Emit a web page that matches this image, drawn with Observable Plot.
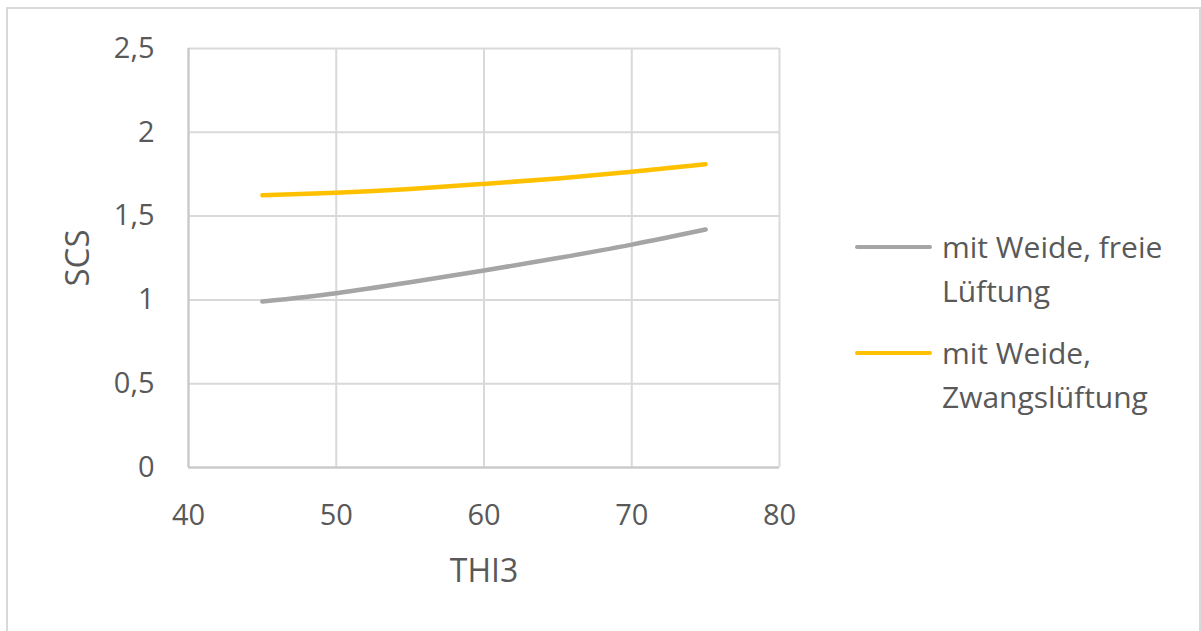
<!DOCTYPE html>
<html>
<head>
<meta charset="utf-8">
<script src="https://cdn.jsdelivr.net/npm/d3@7"></script>
<script src="https://cdn.jsdelivr.net/npm/@observablehq/plot@0.6"></script>
<style>
  html, body { margin: 0; padding: 0; background: #fff; }
  #wrap { position: relative; width: 1201px; height: 631px; font-family: "Open Sans", sans-serif; color: #595959; }
  #frame { position: absolute; left: 6px; top: 7px; width: 1195px; height: 630px; border: 2px solid #d9d9d9; box-sizing: border-box; }
  #legend { position: absolute; left: 855px; top: 225px; font-size: 30px; line-height: 44px; }
  .item { display: flex; align-items: flex-start; margin-bottom: 18px; }
  .swatch { width: 77px; height: 4px; border-radius: 2px; margin-top: 20px; margin-right: 10px; flex: none; }
  svg { position: absolute; left: 0; top: 0; }
</style>
</head>
<body>
<div id="wrap"><div id="frame"></div><div id="legend"></div></div>
<script>
const thi = [45, 50, 55, 60, 65, 70, 75];
const freieLueftung = [0.99, 1.04, 1.105, 1.175, 1.25, 1.33, 1.42];
const zwangsLueftung = [1.625, 1.64, 1.662, 1.692, 1.725, 1.765, 1.81];
const seriesNames = ["mit Weide, freie Lüftung", "mit Weide, Zwangslüftung"];
const seriesLegend = [["mit Weide, freie", "Lüftung"], ["mit Weide,", "Zwangslüftung"]];
const seriesColors = ["#a5a5a5", "#ffc000"];
const xTicks = [40, 50, 60, 70, 80];
const yTicks = [0, 0.5, 1, 1.5, 2, 2.5];

const rows = [];
thi.forEach((x, i) => {
  rows.push({x, y: freieLueftung[i], s: seriesNames[0]});
  rows.push({x, y: zwangsLueftung[i], s: seriesNames[1]});
});

const fmt = d => String(d).replace(".", ",");

const chart = Plot.plot({
  width: 1201,
  height: 631,
  marginLeft: 188,
  marginRight: 422,
  marginTop: 48,
  marginBottom: 164,
  style: { fontFamily: "Open Sans, sans-serif", fontSize: "29px", color: "#595959", background: "transparent" },
  x: { domain: [40, 80] },
  y: { domain: [0, 2.5] },
  color: { domain: seriesNames, range: seriesColors },
  marks: [
    Plot.gridX(xTicks, { stroke: "#d9d9d9", strokeOpacity: 1, strokeWidth: 2 }),
    Plot.gridY(yTicks, { stroke: "#d9d9d9", strokeOpacity: 1, strokeWidth: 2 }),
    Plot.ruleY([0], { stroke: "#c8c8c8", strokeWidth: 2 }),
    Plot.ruleX([40], { stroke: "#c8c8c8", strokeWidth: 2 }),
    Plot.axisX(xTicks, { tickSize: 0, tickPadding: 37, fill: "#595959", label: null, fontSize: 29 }),
    Plot.axisY(yTicks, { tickSize: 0, tickPadding: 34, fill: "#595959", tickFormat: fmt, label: null, fontSize: 29 }),
    Plot.text(["THI3"], { frameAnchor: "bottom", dy: 114, fill: "#595959", fontSize: 32, textAnchor: "middle" }),
    Plot.text(["SCS"], { frameAnchor: "left", dx: -110, rotate: -90, fill: "#595959", fontSize: 33, textAnchor: "middle" }),
    Plot.line(rows, { x: "x", y: "y", z: "s", stroke: "s", strokeWidth: 4.5, curve: "natural", strokeLinecap: "round" })
  ]
});
document.getElementById("wrap").appendChild(chart);

const legend = document.getElementById("legend");
seriesLegend.forEach((lines, i) => {
  const item = document.createElement("div");
  item.className = "item";
  const sw = document.createElement("div");
  sw.className = "swatch";
  sw.style.background = seriesColors[i];
  const txt = document.createElement("div");
  txt.innerHTML = lines.join("<br>");
  item.appendChild(sw);
  item.appendChild(txt);
  legend.appendChild(item);
});
</script>
</body>
</html>
